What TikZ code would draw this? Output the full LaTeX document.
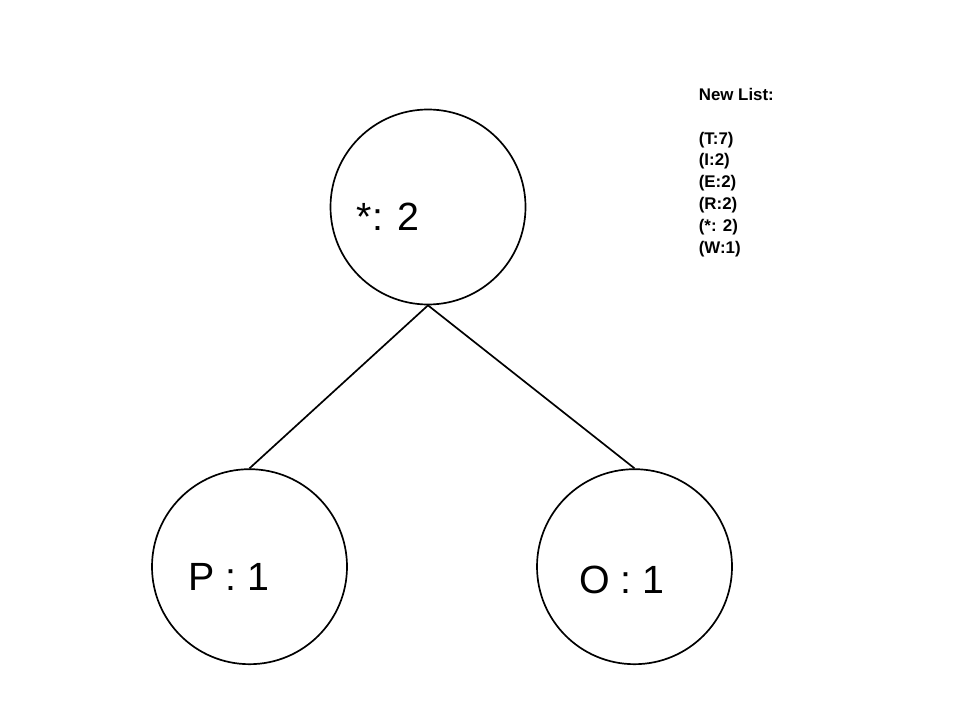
\documentclass[tikz,border=0pt]{standalone}
\usepackage{fontspec}
\setmainfont{Liberation Sans}
\usetikzlibrary{positioning}

\begin{document}
\begin{tikzpicture}[
    line width=1.2pt,
    treenode/.style={
        circle,
        draw,
        minimum size=4.875cm,
        inner sep=0pt
    },
    value/.style={
        anchor=base west,
        inner sep=0pt,
        font=\fontsize{28}{34}\selectfont
    },
    listtext/.style={
        anchor=base west,
        inner sep=0pt,
        align=left,
        font=\fontsize{12}{15.5}\selectfont\bfseries
    },
    edge/.style={
        line width=1.2pt
    }
]

\useasboundingbox (0,0) rectangle (24,18);

% ------------------------------------------------------------------
% TREE
% ------------------------------------------------------------------

\node[treenode] (star) at (10.7,12.825) {};

\node[treenode, below=4.075cm of star, xshift=-4.4625cm] (pnode) {};

\node[treenode, below=4.075cm of star, xshift=5.1625cm] (onode) {};

\node[value] (starval) at ([shift={(-1.8,-0.575)}]star.center) {*: 2};
\node[value] (pval) at ([shift={(-1.55,-0.6)}]pnode.center) {P : 1};
\node[value] (oval) at ([shift={(-1.4,-0.675)}]onode.center) {O : 1};

\draw[edge] (star.south) -- (pnode.north);
\draw[edge] (star.south) -- (onode.north);

% ------------------------------------------------------------------
% LIST
% ------------------------------------------------------------------

\node[listtext] (title) at (17.45,15.48) {New List:};

% base anchor sits on the last line here
\node[listtext] (list) at (17.45,11.675)
{(T:7)\\(I:2)\\(E:2)\\(R:2)\\(*: 2)\\(W:1)};

\end{tikzpicture}
\end{document}
